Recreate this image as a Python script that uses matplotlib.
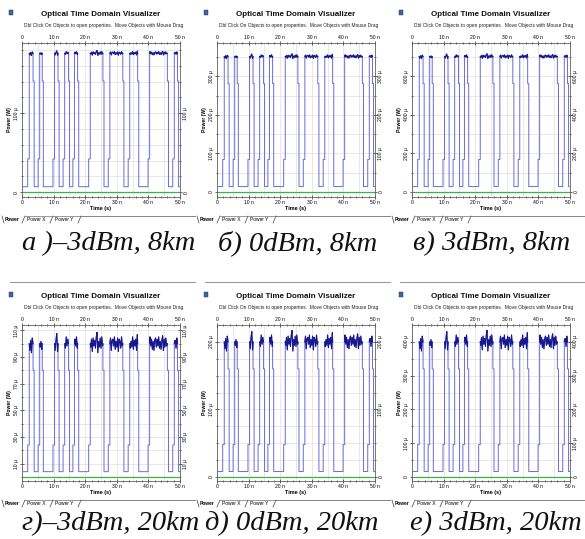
import numpy as np
import matplotlib
matplotlib.use("Agg")
import matplotlib.pyplot as plt
from matplotlib.lines import Line2D
from matplotlib.patches import Rectangle

W, H = 585, 539

# pulse edges (ns)
rise_ns = [1.8, 5.1, 9.8, 13.0, 16.1, 21.1, 27.3, 33.6, 39.9, 47.7]
fall_ns = [3.5, 6.4, 11.4, 14.7, 17.6, 25.6, 31.9, 36.6, 46.0, 49.2]

# "1" level of each panel (uW) and axis ranges
peak_uw = [176, 352, 704, 100, 200, 400]
ylims = [(-6, 189), (-13, 387), (-26, 774), (-3, 114), (-6, 225), (-12, 450)]
yticks = [[0, 100], [0, 100, 200, 300], [0, 200, 400, 600],
          [10, 30, 50, 70, 90, 110], [0, 100, 200], [0, 100, 200, 300, 400]]
grid_step = [20, 50, 100, 10, 25, 50]
captions = ["а )–3dBm, 8km", "б) 0dBm, 8km", "в) 3dBm, 8km",
            "г)–3dBm, 20km", "д) 0dBm, 20km", "е) 3dBm, 20km"]
caption_x = [22, 218, 413, 22, 205, 410]

low_frac = 0.04      # "0" level as part of peak
rise_step = 0.24     # shoulder on rising edge
fall_step = 0.80     # shoulder on falling edge

# noise on the "1" level, percent, one value per 0.25 ns
ripple_pct = [
    3, -4, 6, -2, 5, -7, 2, 4, -3, 9, -6, 3, -8, 5, 2, -4, 7, -5, 1, -2,
    4, -6, 8, -3, 2, -5, 6, -1, 3, -7, 5, 11, -9, 4, -3, 6, -5, 2, -4, 7,
    -2, 5, -6, 3, 9, -7, 1, 4, -5, 6, -3, 2, -8, 5, 3, -4, 6, -2, 4, -6,
    2, 7, -5, 3, -1, 5, -7, 4, -2, 6, -4, 3, 8, -6, 2, -3, 5, -5, 1, 4,
    -6, 3, 7, -4, 2, -5, 6, -3, 4, -7, 5, -2, 3, -4, 6, 10, -8, 2, -3, 5,
    -4, 6, -2, 3, -6, 4, 1, -5, 7, -3, 2, -4, 5, -6, 3, 4, -2, 6, -5, 2,
    -3, 5, -7, 4, 2, -4, 6, -2, 3, -5, 7, -3, 1, 4, -6, 3, 5, -4, 2, -3,
    6, -5, 3, -2, 4, -6, 8, -3, 2, -4, 5, -2, 3, -7, 4, 6, -5, 2, -3, 5,
    -4, 3, 6, -2, 4, -5, 2, -6, 3, 5, -3, 4, -2, 6, -4, 2, -5, 3, 7, -6,
    4, -3, 5, -2, 3, -6, 4, 2, -4, 5, -3, 6, -5, 2, 3, -4, 5, -2, 4, -3,
    2,
]
ripple_t = np.arange(len(ripple_pct)) * 0.25
noise_scale = [0.2, 0.2, 0.2, 0.85, 0.85, 0.85]

UI = "Liberation Sans"


def fx(px):
    return px / W


def fy(py):
    return 1 - py / H


def line(x1, y1, x2, y2, color="#808080", lw=0.6):
    fig.add_artist(Line2D([fx(x1), fx(x2)], [fy(y1), fy(y2)],
                          transform=fig.transFigure, color=color, lw=lw))


def build_trace(peak, amp):
    low = peak * low_frac
    t, y, tops = [0.0], [low], []
    for r, f in zip(rise_ns, fall_ns):
        t += [r, r, r + 0.5, r + 0.5]
        y += [low, peak * rise_step, peak * rise_step, peak]
        idx = np.where((ripple_t > r + 0.5) & (ripple_t < f))[0]
        tt = [float(ripple_t[k]) for k in idx]
        yy = [peak * (1 + amp * ripple_pct[k] / 100) for k in idx]
        tops.append(([r + 0.5] + tt + [f], [peak] + yy + [peak]))
        t += tt + [f, f, f + 0.35, f + 0.35]
        y += yy + [peak, peak * fall_step, peak * fall_step, low]
    t.append(50.0)
    y.append(low)
    return t, y, tops


def fmt_y(v):
    return "0" if v == 0 else f"{v:g} µ"


fig = plt.figure(figsize=(W / 100, H / 100), dpi=100)
fig.patch.set_facecolor("white")

for i in range(6):
    row, col = divmod(i, 3)
    x0 = [0, 195, 390][col]
    top = [43, 325][row]
    bot = [197, 481][row]
    head = [0, 282][row]
    left = x0 + 22

    ax = fig.add_axes([fx(left), fy(bot), fx(158), (bot - top) / H])
    ax.set_xlim(0, 50)
    ax.set_ylim(*ylims[i])

    for g in np.arange(0, 50.1, 5):
        ax.axvline(g, color="#dedede", lw=0.5, zorder=0)
    for g in np.arange(grid_step[i], ylims[i][1], grid_step[i]):
        ax.axhline(g, color="#dedede", lw=0.5, zorder=0)

    ax.axhline(0, color="#3cb43c", lw=0.9, zorder=2)

    t, y, tops = build_trace(peak_uw[i], noise_scale[i])
    ax.plot(t, y, color="#6a6ad4", lw=0.7, zorder=3)
    for tt, yy in tops:
        ax.plot(tt, yy, color="#18188e", lw=0.8, zorder=4)

    ax.set_xticks([0, 10, 20, 30, 40, 50])
    ax.set_xticklabels(["0", "10 n", "20 n", "30 n", "40 n", "50 n"])
    ax.set_xticks(np.arange(0, 50.1, 2), minor=True)
    ax.set_yticks(yticks[i])
    ax.set_yticklabels([fmt_y(v) for v in yticks[i]])
    ax.set_yticks(np.arange(0, ylims[i][1], grid_step[i]), minor=True)
    ax.tick_params(which="both", top=True, right=True, labeltop=True,
                   labelright=True, direction="inout", color="#222222",
                   labelsize=3.6, pad=1.2, width=0.5)
    ax.tick_params(which="major", length=2.5)
    ax.tick_params(which="minor", length=1.6)
    ax.tick_params(axis="y", labelrotation=90)
    for lab in ax.get_xticklabels() + ax.get_yticklabels():
        lab.set_family(UI)
    for lab in ax.get_yticklabels():
        lab.set_va("center")
    for sp in ax.spines.values():
        sp.set_color("#606060")
        sp.set_linewidth(0.6)

    ax.set_ylabel("Power (W)", fontsize=3.6, fontweight="bold", family=UI,
                  labelpad=1)
    ax.set_xlabel("Time (s)", fontsize=4, fontweight="bold", family=UI,
                  labelpad=0.5)

    # window chrome
    fig.add_artist(Rectangle((fx(x0 + 9), fy(head + 15)), fx(4), 5 / H,
                             transform=fig.transFigure, facecolor="#3a64a8",
                             edgecolor="#203050", lw=0.3))
    if row == 1:
        line(x0 + 10, head, x0 + 195, head, color="#9a9a9a", lw=0.8)
    fig.text(fx(left + 79), fy(head + 15), "Optical Time Domain Visualizer",
             ha="center", va="center", fontsize=5.8, fontweight="bold",
             family=UI, color="#101010")
    fig.text(fx(left + 2), fy(head + 25),
             "Dbl Click On Objects to open properties.  Move Objects with Mouse Drag",
             ha="left", va="center", fontsize=3.5, family=UI, color="#202020")

    # tab strip
    tab_top = bot + 19
    tab_bot = bot + 26
    line(x0 + 2, tab_top, x0 + 4, tab_bot, color="#404040", lw=0.5)
    line(x0 + 22, tab_bot, x0 + 25, tab_top, color="#404040", lw=0.5)
    line(x0 + 50, tab_bot, x0 + 53, tab_top, color="#404040", lw=0.5)
    line(x0 + 78, tab_bot, x0 + 81, tab_top, color="#404040", lw=0.5)
    line(x0 + 81, tab_top, x0 + 195, tab_top, color="#707070", lw=0.6)
    line(x0 + 25, tab_top, x0 + 81, tab_top, color="#707070", lw=0.5)
    fig.text(fx(x0 + 5), fy(tab_top + 3.5), "Power", ha="left", va="center",
             fontsize=3.5, fontweight="bold", family=UI)
    fig.text(fx(x0 + 27), fy(tab_top + 3.5), "Power X", ha="left", va="center",
             fontsize=3.5, family=UI)
    fig.text(fx(x0 + 55), fy(tab_top + 3.5), "Power Y", ha="left", va="center",
             fontsize=3.5, family=UI)

    fig.text(fx(caption_x[i]), fy([250, 530][row]), captions[i], ha="left",
             va="baseline", fontsize=20.5, style="italic",
             family="Liberation Serif", color="#111111")

fig.savefig("out.png", dpi=100)
